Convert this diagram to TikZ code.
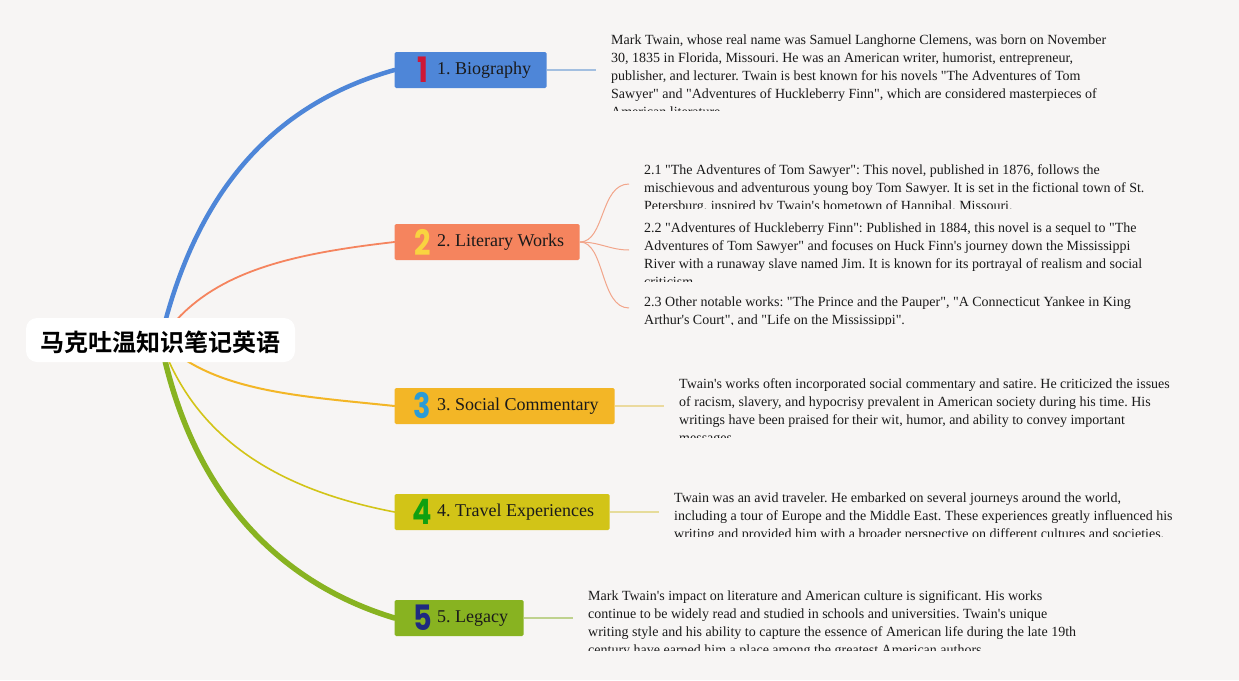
\documentclass[tikz,border=0pt]{standalone}
\usepackage{fontspec}
\newfontfamily\plainserif{Liberation Serif}
\newfontfamily\cjkbold[BoldFont=Noto Sans CJK SC Bold]{Noto Sans CJK SC}
\newfontfamily\digitfont{Poppins}[UprightFont=* Bold]
\usetikzlibrary{backgrounds}
\definecolor{pagebg}{HTML}{F7F5F4}
\definecolor{cA}{HTML}{4E86D8}
\definecolor{cB}{HTML}{F5845E}
\definecolor{cC}{HTML}{F3B626}
\definecolor{cD}{HTML}{D2C417}
\definecolor{cE}{HTML}{88B321}
\definecolor{lA}{HTML}{A3BFE0}
\definecolor{lB}{HTML}{F2A58A}
\definecolor{lC}{HTML}{EBDA9E}
\definecolor{lD}{HTML}{E6DC9A}
\definecolor{lE}{HTML}{BFD28E}
\definecolor{inkc}{HTML}{1A1A1A}
\definecolor{dA}{HTML}{CE1836}
\definecolor{dB}{HTML}{F9D340}
\definecolor{dC}{HTML}{2A9BD6}
\definecolor{dD}{HTML}{10A010}
\definecolor{dE}{HTML}{1E2A80}
\tikzset{
  branchbox/.style={anchor=west,rounded corners=1.5pt,minimum height=36pt,inner sep=0pt,draw=none},
  branchtext/.style={anchor=base west,inner sep=0pt,font=\fontsize{18}{20}\plainserif\frenchspacing,text=inkc},
  digitnum/.style={anchor=center,inner sep=0pt,font=\fontsize{35}{35}\digitfont,xscale=.82},
  leaftext/.style={anchor=north west,inner sep=0pt,align=left,font=\fontsize{14}{18}\plainserif\frenchspacing,text=inkc},
  trunk/.style={line width=#1,line cap=round},
  stub/.style={line width=1.8pt},
  twig/.style={line width=1pt,draw=lB}
}
\newcommand{\leafclip}[5]{\begin{scope}\clip (#2,#3) rectangle (#2+560,#4);\node[leaftext] (#1) at (#2,#3) {\strut #5};\end{scope}}
\begin{document}
\begin{tikzpicture}[x=1pt,y=-1pt]
\useasboundingbox (0,0) rectangle (1239,680);
\node[fill=white,rounded corners=11pt,minimum width=269pt,minimum height=44pt,inner sep=0pt] (root) at (160.5,340) {};
\node[inner sep=0pt,font=\fontsize{24}{24}\cjkbold\bfseries] (roottext) at (160.5,342) {马克吐温知识笔记英语};
\node[branchbox,fill=cA,minimum width=152pt] (b1) at (394.5,70) {};
\node[branchbox,fill=cB,minimum width=185pt] (b2) at (394.5,242) {};
\node[branchbox,fill=cC,minimum width=220pt] (b3) at (394.5,406) {};
\node[branchbox,fill=cD,minimum width=215pt] (b4) at (394.5,512) {};
\node[branchbox,fill=cE,minimum width=129pt] (b5) at (394.5,618) {};
\node[digitnum,text=dA] (n1) at (423,70) {1};
\node[digitnum,text=dB] (n2) at (422.5,242) {2};
\node[digitnum,text=dC] (n3) at (422.5,406) {3};
\node[digitnum,text=dD] (n4) at (422.5,512) {4};
\node[digitnum,text=dE] (n5) at (422.5,618) {5};
\node[branchtext] (t1) at (437,74) {1. Biography};
\node[branchtext] (t2) at (437,246) {2. Literary Works};
\node[branchtext] (t3) at (437,410) {3. Social Commentary};
\node[branchtext] (t4) at (437,516) {4. Travel Experiences};
\node[branchtext] (t5) at (437,622) {5. Legacy};
\leafclip{l1}{611}{31.5}{110}{Mark Twain, whose real name was Samuel Langhorne Clemens, was born on November\\30, 1835 in Florida, Missouri. He was an American writer, humorist, entrepreneur,\\publisher, and lecturer. Twain is best known for his novels "The Adventures of Tom\\Sawyer" and "Adventures of Huckleberry Finn", which are considered masterpieces of\\American literature.}
\leafclip{l21}{644}{161.5}{208.5}{2.1 "The Adventures of Tom Sawyer": This novel, published in 1876, follows the\\mischievous and adventurous young boy Tom Sawyer. It is set in the fictional town of St.\\Petersburg, inspired by Twain's hometown of Hannibal, Missouri.}
\leafclip{l22}{644}{219.5}{281}{2.2 "Adventures of Huckleberry Finn": Published in 1884, this novel is a sequel to "The\\Adventures of Tom Sawyer" and focuses on Huck Finn's journey down the Mississippi\\River with a runaway slave named Jim. It is known for its portrayal of realism and social\\criticism.}
\leafclip{l23}{644}{293.5}{324}{2.3 Other notable works: "The Prince and the Pauper", "A Connecticut Yankee in King\\Arthur's Court", and "Life on the Mississippi".}
\leafclip{l3}{679}{375.5}{437}{Twain's works often incorporated social commentary and satire. He criticized the issues\\of racism, slavery, and hypocrisy prevalent in American society during his time. His\\writings have been praised for their wit, humor, and ability to convey important\\messages.}
\leafclip{l4}{674}{489.5}{536}{Twain was an avid traveler. He embarked on several journeys around the world,\\including a tour of Europe and the Middle East. These experiences greatly influenced his\\writing and provided him with a broader perspective on different cultures and societies.}
\leafclip{l5}{588}{587.5}{650}{Mark Twain's impact on literature and American culture is significant. His works\\continue to be widely read and studied in schools and universities. Twain's unique\\writing style and his ability to capture the essence of American life during the late 19th\\century have earned him a place among the greatest American authors.}
\coordinate (e1) at (596,70);
\coordinate (e3) at (664,406);
\coordinate (e4) at (659,512);
\coordinate (e5) at (573,618);
\coordinate (e21) at (629,184);
\coordinate (e22) at (629,250);
\coordinate (e23) at (629,308);
\begin{scope}[on background layer]
\fill[pagebg] (0,0) rectangle (1239,680);
\draw[trunk=4.5pt,cA] (root.center) .. controls (195,195) and (270,105) .. (b1.west);
\draw[trunk=1.8pt,cB] (root.center) .. controls (205,275) and (280,255) .. (b2.west);
\draw[trunk=2pt,cC] (root.center) .. controls (212,392) and (300,396) .. (b3.west);
\draw[trunk=1.6pt,cD] (root.center) .. controls (195,440) and (280,490) .. (b4.west);
\draw[trunk=5.5pt,cE] (root.center) .. controls (192,500) and (285,585) .. (b5.west);
\draw[stub,lA] (b1.east) -- (e1);
\draw[stub,lC] (b3.east) -- (e3);
\draw[stub,lD] (b4.east) -- (e4);
\draw[stub,lE] (b5.east) -- (e5);
\draw[twig] (b2.east) .. controls (605,242) and (600,184) .. (e21);
\draw[twig] (b2.east) .. controls (600,242) and (610,250) .. (e22);
\draw[twig] (b2.east) .. controls (605,242) and (600,308) .. (e23);
\end{scope}
\end{tikzpicture}
\end{document}
